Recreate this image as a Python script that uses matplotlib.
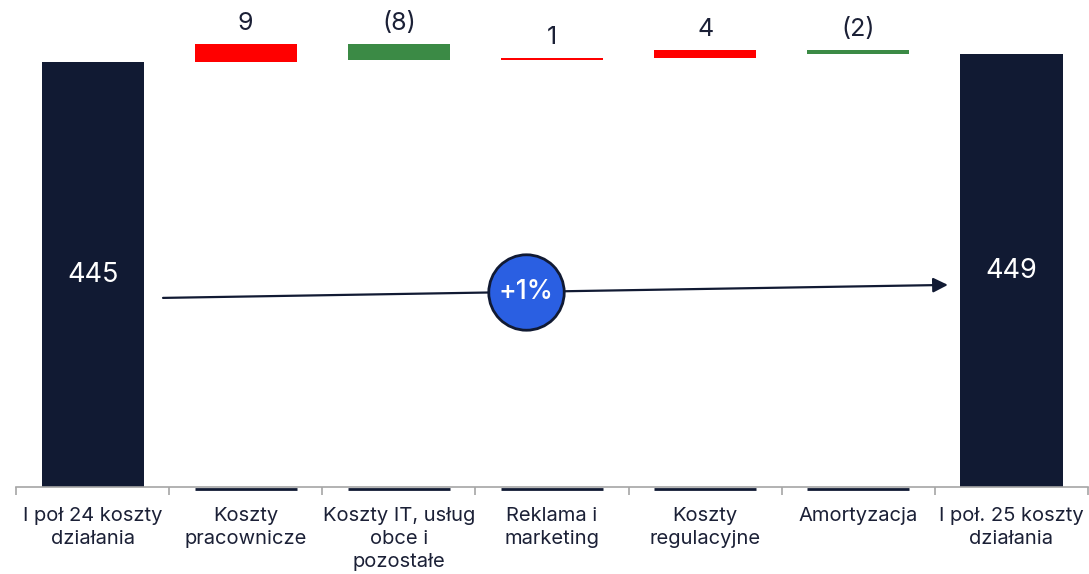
import numpy as np
import matplotlib.pyplot as plt
from matplotlib.ticker import FixedLocator

plt.rcParams['font.family'] = ['Inter', 'DejaVu Sans']

categories = ['I poł 24 koszty\ndziałania', 'Koszty\npracownicze',
              'Koszty IT, usług\nobce i\npozostałe', 'Reklama i\nmarketing',
              'Koszty\nregulacyjne', 'Amortyzacja', 'I poł. 25 koszty\ndziałania']
start_total = 445
changes = [9, -8, 1, 4, -2]
end_total = 449

NAVY = '#111a33'
TEXT = '#1b2036'
UP = '#ff0000'
DOWN = '#3b8a45'
AXIS = '#a6a6a6'
BADGE = '#2a5fe2'

fig = plt.figure(figsize=(10.89, 5.74), dpi=100)
ax = fig.add_axes([0.0147, 0.1507, 0.9844, 0.8493])

ymin = 232.5
ymax = 476.25
ax.set_xlim(-0.5, len(categories) - 0.5)
ax.set_ylim(ymin, ymax)

x = np.arange(len(categories))
width = 0.667

# totals
for xi, v in ((x[0], start_total), (x[-1], end_total)):
    ax.bar(xi, v - ymin, bottom=ymin, width=width, color=NAVY, zorder=2)
    ax.text(xi, ymin + (v - ymin) / 2, f'{v}', ha='center', va='center',
            color='white', fontsize=19.5, zorder=3)

# floating steps
level = start_total
for xi, d in zip(x[1:-1], changes):
    bottom = level if d > 0 else level + d
    ax.bar(xi, abs(d), bottom=bottom, width=width,
           color=UP if d > 0 else DOWN, zorder=2)
    label = f'{d}' if d > 0 else f'({-d})'
    ax.annotate(label, (xi, bottom + abs(d)), xytext=(0, 7),
                textcoords='offset points', ha='center', va='bottom',
                fontsize=18, color=TEXT)
    # base marker sitting on the axis
    ax.hlines(ymin - 0.6, xi - width / 2, xi + width / 2, color=NAVY,
              lw=2, clip_on=False, zorder=1)
    level += d

# growth arrow with badge
ax.annotate('', xy=(5.585, 333.8), xytext=(0.46, 327.3),
            arrowprops=dict(arrowstyle='-|>', color=NAVY, lw=1.6,
                            mutation_scale=22, shrinkA=0, shrinkB=0),
            zorder=3)
bx = 2.83
by = 327.3 + (333.8 - 327.3) * (bx - 0.46) / (5.585 - 0.46)
ax.scatter([bx], [by], s=2950, color=BADGE, edgecolor=NAVY,
           linewidth=2, zorder=4)
pct = (end_total / start_total - 1) * 100
ax.text(bx, by, f'+{pct:.0f}%', ha='center', va='center', color='white',
        fontsize=19, fontweight='medium', zorder=5)

# axis styling
for side in ('left', 'right', 'top'):
    ax.spines[side].set_visible(False)
ax.spines['bottom'].set_color(AXIS)
ax.spines['bottom'].set_linewidth(1.2)
ax.set_yticks([])
ax.xaxis.set_major_locator(FixedLocator(np.arange(len(categories) + 1) - 0.5))
ax.xaxis.set_minor_locator(FixedLocator(x))
ax.set_xticklabels([])
ax.set_xticklabels(categories, minor=True, fontsize=14.5, color=TEXT,
                   linespacing=1.35)
ax.tick_params(axis='x', which='major', length=5.5, width=1.2, color=AXIS)
ax.tick_params(axis='x', which='minor', length=0, pad=14)
for t in ax.xaxis.get_minorticklabels():
    t.set_horizontalalignment('center')
    t.set_multialignment('center')

fig.savefig('out.png', dpi=100)
